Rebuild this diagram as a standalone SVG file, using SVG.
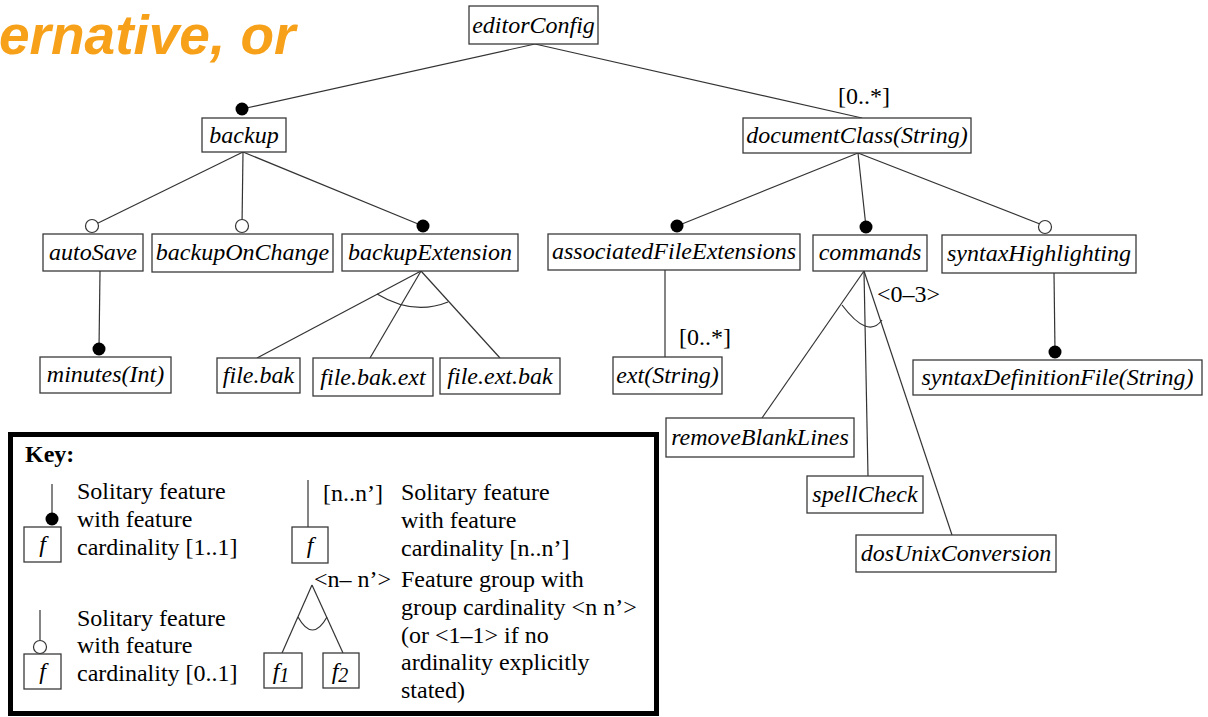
<svg xmlns="http://www.w3.org/2000/svg" width="1208" height="717" viewBox="0 0 1208 717">
  <style>
    .box { fill: #fff; stroke: #3a3a3a; stroke-width: 1.3; }
    .lbl { font-family: "Liberation Serif", "DejaVu Serif", serif; font-style: italic; font-size: 24px; fill: #000; text-anchor: middle; }
    .txt { font-family: "Liberation Serif", "DejaVu Serif", serif; font-size: 24px; fill: #000; }
    .edge { stroke: #333; stroke-width: 1.2; fill: none; }
    .dot { fill: #000; }
    .opt { fill: #fff; stroke: #333; stroke-width: 1.2; }
    .title { font-family: "Liberation Sans", Arial, sans-serif; font-weight: bold; font-style: italic; font-size: 55px; fill: #F7A11A; }
  </style>

  <rect width="1208" height="717" fill="#fff"/>

  <!-- slide heading fragment -->
  <text class="title" x="-1" y="54">ernative, or</text>

  <!-- connectors -->
  <g id="connectors">
    <line class="edge" x1="535" y1="44" x2="242" y2="109"/>
    <line class="edge" x1="535" y1="44" x2="862" y2="118"/>
    <text class="txt" x="838" y="104">[0..*]</text>

    <line class="edge" x1="243" y1="152" x2="92" y2="226"/>
    <line class="edge" x1="243" y1="152" x2="242" y2="226"/>
    <line class="edge" x1="243" y1="152" x2="423" y2="226"/>

    <line class="edge" x1="858" y1="153" x2="677" y2="226"/>
    <line class="edge" x1="858" y1="153" x2="866" y2="227"/>
    <line class="edge" x1="858" y1="153" x2="1045" y2="226"/>

    <line class="edge" x1="100" y1="271" x2="99" y2="349"/>

    <line class="edge" x1="421" y1="271" x2="257" y2="358"/>
    <line class="edge" x1="421" y1="271" x2="370" y2="358"/>
    <line class="edge" x1="421" y1="271" x2="500" y2="358"/>
    <path class="edge" d="M377,294 Q413.5,316 448,302"/>

    <line class="edge" x1="665" y1="270" x2="665" y2="357"/>
    <text class="txt" x="679" y="345">[0..*]</text>

    <line class="edge" x1="864" y1="271" x2="762" y2="418"/>
    <line class="edge" x1="864" y1="271" x2="868" y2="476"/>
    <line class="edge" x1="864" y1="271" x2="952" y2="535"/>
    <path class="edge" d="M842,305 Q868,339.5 882,320"/>
    <text class="txt" x="877" y="302">&lt;0–3&gt;</text>

    <line class="edge" x1="1054" y1="273" x2="1055" y2="352"/>

    <!-- cardinality markers -->
    <circle class="dot" cx="242" cy="109" r="6.5"/>
    <circle class="opt" cx="92" cy="226" r="6.5"/>
    <circle class="opt" cx="242" cy="226" r="6.5"/>
    <circle class="dot" cx="423" cy="226" r="6.5"/>
    <circle class="dot" cx="677" cy="226" r="6.5"/>
    <circle class="dot" cx="866" cy="227" r="6.5"/>
    <circle class="opt" cx="1045" cy="227" r="6.5"/>
    <circle class="dot" cx="99" cy="349" r="6.5"/>
    <circle class="dot" cx="1055" cy="352" r="6.5"/>
  </g>

  <!-- feature nodes -->
  <g id="editorConfig"><rect class="box" x="469" y="6" width="129" height="38"/><text class="lbl" x="533.5" y="33">editorConfig</text></g>
  <g id="backup"><rect class="box" x="202" y="118" width="84" height="34"/><text class="lbl" x="244" y="143">backup</text></g>
  <g id="documentClass"><rect class="box" x="743" y="118" width="228" height="35"/><text class="lbl" x="857" y="143">documentClass(String)</text></g>
  <g id="autoSave"><rect class="box" x="43" y="234" width="100" height="37"/><text class="lbl" x="93" y="260">autoSave</text></g>
  <g id="backupOnChange"><rect class="box" x="152" y="234" width="181" height="38"/><text class="lbl" x="242.5" y="260">backupOnChange</text></g>
  <g id="backupExtension"><rect class="box" x="342" y="234" width="176" height="37"/><text class="lbl" x="430" y="260">backupExtension</text></g>
  <g id="associatedFileExtensions"><rect class="box" x="548" y="234" width="252" height="36"/><text class="lbl" x="674" y="259">associatedFileExtensions</text></g>
  <g id="commands"><rect class="box" x="813" y="235" width="114" height="36"/><text class="lbl" x="870" y="260">commands</text></g>
  <g id="syntaxHighlighting"><rect class="box" x="942" y="235" width="194" height="38"/><text class="lbl" x="1039" y="261">syntaxHighlighting</text></g>
  <g id="minutes"><rect class="box" x="40" y="357" width="131" height="36"/><text class="lbl" x="105.5" y="382">minutes(Int)</text></g>
  <g id="fileBak"><rect class="box" x="217" y="358" width="83" height="35"/><text class="lbl" x="258.5" y="383">file.bak</text></g>
  <g id="fileBakExt"><rect class="box" x="313" y="358" width="120" height="38"/><text class="lbl" x="373" y="385">file.bak.ext</text></g>
  <g id="fileExtBak"><rect class="box" x="440" y="358" width="120" height="36"/><text class="lbl" x="500" y="384">file.ext.bak</text></g>
  <g id="ext"><rect class="box" x="613" y="357" width="109" height="37"/><text class="lbl" x="667.5" y="383">ext(String)</text></g>
  <g id="syntaxDefinitionFile"><rect class="box" x="913" y="360" width="289" height="35"/><text class="lbl" x="1057.5" y="385">syntaxDefinitionFile(String)</text></g>
  <g id="removeBlankLines"><rect class="box" x="666" y="418" width="188" height="39"/><text class="lbl" x="760" y="445">removeBlankLines</text></g>
  <g id="spellCheck"><rect class="box" x="807" y="476" width="116" height="37"/><text class="lbl" x="865" y="502">spellCheck</text></g>
  <g id="dosUnixConversion"><rect class="box" x="856" y="535" width="200" height="37"/><text class="lbl" x="956" y="561">dosUnixConversion</text></g>

  <!-- legend -->
  <g id="key">
    <rect x="10.5" y="434.5" width="646" height="279" fill="#fff" stroke="#000" stroke-width="5"/>
    <text class="txt" x="25" y="462" font-weight="bold">Key:</text>

    <line class="edge" x1="52" y1="484" x2="52" y2="518"/>
    <circle class="dot" cx="52" cy="519" r="6.5"/>
    <rect class="box" x="24" y="527" width="37" height="35"/>
    <text class="lbl" x="42.5" y="552">f</text>
    <text class="txt" x="77" y="499">Solitary feature</text>
    <text class="txt" x="77" y="527">with feature</text>
    <text class="txt" x="77" y="555">cardinality [1..1]</text>

    <line class="edge" x1="40" y1="610" x2="40" y2="640"/>
    <circle class="opt" cx="40" cy="647" r="6.5"/>
    <rect class="box" x="24" y="654" width="37" height="35"/>
    <text class="lbl" x="42.5" y="679">f</text>
    <text class="txt" x="77" y="626">Solitary feature</text>
    <text class="txt" x="77" y="653">with feature</text>
    <text class="txt" x="77" y="681">cardinality [0..1]</text>

    <line class="edge" x1="308" y1="480" x2="308" y2="527"/>
    <rect class="box" x="292" y="527" width="36" height="36"/>
    <text class="lbl" x="310" y="553">f</text>
    <text class="txt" x="323" y="501">[n..n’]</text>
    <text class="txt" x="401" y="500">Solitary feature</text>
    <text class="txt" x="401" y="528">with feature</text>
    <text class="txt" x="401" y="556">cardinality [n..n’]</text>

    <line class="edge" x1="312" y1="585" x2="282" y2="653"/>
    <line class="edge" x1="312" y1="585" x2="343" y2="653"/>
    <path class="edge" d="M298,617 Q312.5,643 327,617"/>
    <rect class="box" x="264" y="653" width="38" height="35"/>
    <text class="lbl" x="281" y="679">f<tspan font-size="20" dy="3">1</tspan></text>
    <rect class="box" x="323" y="653" width="36" height="35"/>
    <text class="lbl" x="340" y="679">f<tspan font-size="20" dy="3">2</tspan></text>
    <text class="txt" x="314" y="587">&lt;n– n’&gt;</text>
    <text class="txt" x="401" y="587">Feature group with</text>
    <text class="txt" x="401" y="615">group cardinality &lt;n n’&gt;</text>
    <text class="txt" x="401" y="643">(or &lt;1–1&gt; if no</text>
    <text class="txt" x="401" y="670">ardinality explicitly</text>
    <text class="txt" x="401" y="698">stated)</text>
  </g>
</svg>
